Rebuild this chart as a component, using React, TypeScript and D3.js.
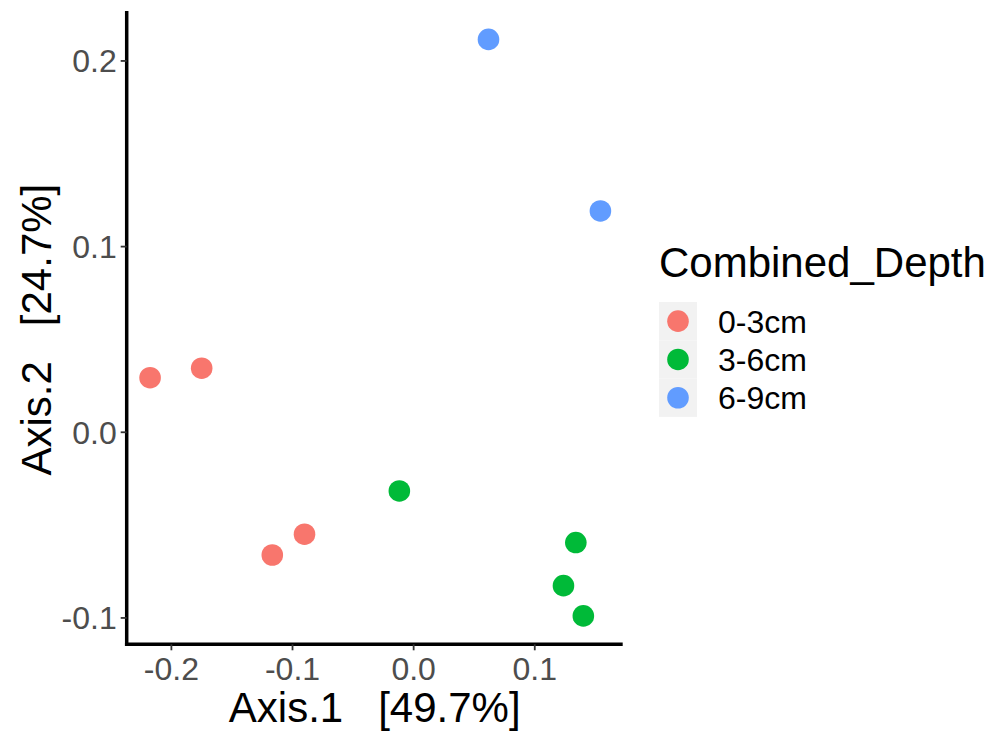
import React from "react";
import * as d3 from "d3";

const groups = ["0-3cm", "3-6cm", "6-9cm"];
const groupColors = ["#F8766D", "#00BA38", "#619CFF"];

const pointGroup = ["0-3cm", "0-3cm", "0-3cm", "0-3cm", "3-6cm", "3-6cm", "3-6cm", "3-6cm", "6-9cm", "6-9cm"];
const axis1 = [-0.2176, -0.175, -0.1167, -0.0901, -0.0118, 0.1339, 0.1237, 0.1401, 0.0618, 0.1542];
const axis2 = [0.0294, 0.0345, -0.0661, -0.0549, -0.0316, -0.0594, -0.0826, -0.0989, 0.2116, 0.1192];

const xTicks = [-0.2, -0.1, 0.0, 0.1];
const yTicks = [-0.1, 0.0, 0.1, 0.2];

const xTitle = "Axis.1   [49.7%]";
const yTitle = "Axis.2   [24.7%]";
const legendTitle = "Combined_Depth";

const W = 1003;
const H = 735;
const FONT = "'Liberation Sans', Arial, Helvetica, sans-serif";

const fmt = (t: number) => d3.format(".1f")(t).replace("\u2212", "-");

export default function App() {
  const left = 126.7;
  const right = 622.7;
  const top = 11;
  const bottom = 644.3;

  const x = d3.scaleLinear().domain([-0.2369, 0.1726]).range([left, right]);
  const y = d3.scaleLinear().domain([-0.1142, 0.2269]).range([bottom, top]);
  const color = d3.scaleOrdinal<string, string>().domain(groups).range(groupColors);

  const keyX = 659;
  const keyY = 302;
  const keyW = 38;
  const keyH = 38.3;

  return (
    <svg
      width={W}
      height={H}
      style={{ position: "absolute", left: 0, top: 0, display: "block", background: "#fff" }}
      fontFamily={FONT}
    >
      <rect x={0} y={0} width={W} height={H} fill="#fff" />
      {axis1.map((v, i) => (
        <circle key={i} cx={x(v)} cy={y(axis2[i])} r={10.8} fill={color(pointGroup[i])} />
      ))}
      <line x1={left} x2={left} y1={top} y2={bottom + 1.75} stroke="#000" strokeWidth={3.5} />
      <line x1={left - 1.75} x2={right} y1={bottom} y2={bottom} stroke="#000" strokeWidth={3.5} />
      {yTicks.map((t) => (
        <g key={"y" + t}>
          <line x1={left - 6} x2={left} y1={y(t)} y2={y(t)} stroke="#333" strokeWidth={1.8} />
          <text x={left - 10} y={y(t)} dy="0.36em" textAnchor="end" fontSize={32} fill="#4D4D4D">
            {fmt(t)}
          </text>
        </g>
      ))}
      {xTicks.map((t) => (
        <g key={"x" + t}>
          <line x1={x(t)} x2={x(t)} y1={bottom} y2={bottom + 6} stroke="#333" strokeWidth={1.8} />
          <text x={x(t)} y={679.5} textAnchor="middle" fontSize={32} fill="#4D4D4D">
            {fmt(t)}
          </text>
        </g>
      ))}
      <text
        x={(left + right) / 2}
        y={721.7}
        textAnchor="middle"
        fontSize={42}
        fill="#000"
        style={{ whiteSpace: "pre" }}
      >
        {xTitle}
      </text>
      <text
        transform={`translate(50.5, ${(top + bottom) / 2 + 2}) rotate(-90)`}
        textAnchor="middle"
        fontSize={42}
        fill="#000"
        style={{ whiteSpace: "pre" }}
      >
        {yTitle}
      </text>
      <text x={659} y={277} fontSize={42} fill="#000">
        {legendTitle}
      </text>
      {groups.map((g, i) => (
        <g key={g}>
          <rect x={keyX} y={keyY + i * keyH} width={keyW} height={keyH} fill="#F2F2F2" />
          <circle cx={keyX + keyW / 2} cy={keyY + i * keyH + keyH / 2} r={10.8} fill={color(g)} />
          <text x={718} y={keyY + i * keyH + keyH / 2} dy="0.36em" fontSize={32} fill="#000">
            {g}
          </text>
        </g>
      ))}
    </svg>
  );
}
